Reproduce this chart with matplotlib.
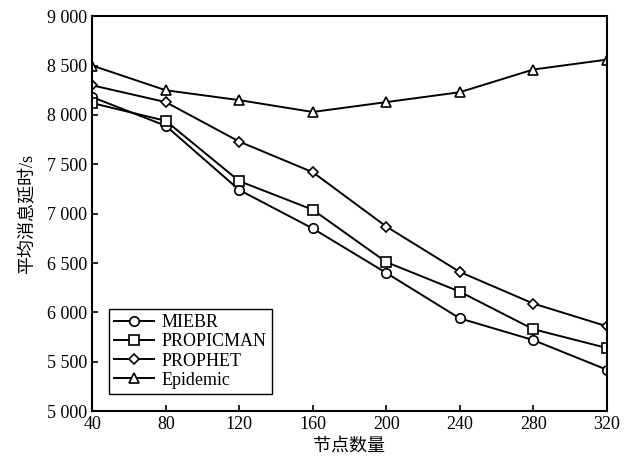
import matplotlib
matplotlib.use("Agg")
import matplotlib.pyplot as plt
from matplotlib.ticker import FuncFormatter

plt.rcParams['font.family'] = ['Liberation Serif', 'Noto Sans CJK SC']

nodes = [40, 80, 120, 160, 200, 240, 280, 320]
miebr = [8180, 7890, 7240, 6850, 6400, 5940, 5720, 5420]
propicman = [8120, 7940, 7330, 7040, 6510, 6210, 5830, 5640]
prophet = [8300, 8130, 7730, 7420, 6870, 6410, 6090, 5860]
epidemic = [8500, 8250, 8150, 8030, 8130, 8230, 8460, 8560]

series = [
    ('MIEBR', miebr, 'o'),
    ('PROPICMAN', propicman, 's'),
    ('PROPHET', prophet, 'D'),
    ('Epidemic', epidemic, '^'),
]

fig = plt.figure(figsize=(6.32, 4.63), dpi=100)
ax = fig.add_axes([0.146, 0.112, 0.814, 0.853])

for name, vals, m in series:
    ms = 5.5 if m == 'D' else 6.8
    ax.plot(nodes, vals, color='black', linewidth=1.4, marker=m,
            markersize=ms, markerfacecolor='white', markeredgecolor='black',
            markeredgewidth=1.2, label=name)

ax.set_xlim(40, 320)
ax.set_ylim(5000, 9000)
ax.set_xticks(nodes)
ax.set_yticks(range(5000, 9001, 500))
ax.yaxis.set_major_formatter(FuncFormatter(lambda v, p: f"{int(v):,}".replace(',', ' ')))
ax.tick_params(direction='in', length=4, width=1.2, labelsize=13, top=False, right=False)
for s in ax.spines.values():
    s.set_linewidth(1.5)

ax.set_xlabel('节点数量', fontsize=13, labelpad=3)
ax.set_ylabel('平均消息延时/s', fontsize=13, labelpad=8)

leg = ax.legend(loc='lower left', bbox_to_anchor=(0.015, 0.02), fontsize=13,
                frameon=True, fancybox=False, edgecolor='black', framealpha=1,
                handlelength=2.2, handletextpad=0.4, labelspacing=0.12,
                borderpad=0.3)
leg.get_frame().set_linewidth(1.0)

fig.savefig('out.png', dpi=100)
